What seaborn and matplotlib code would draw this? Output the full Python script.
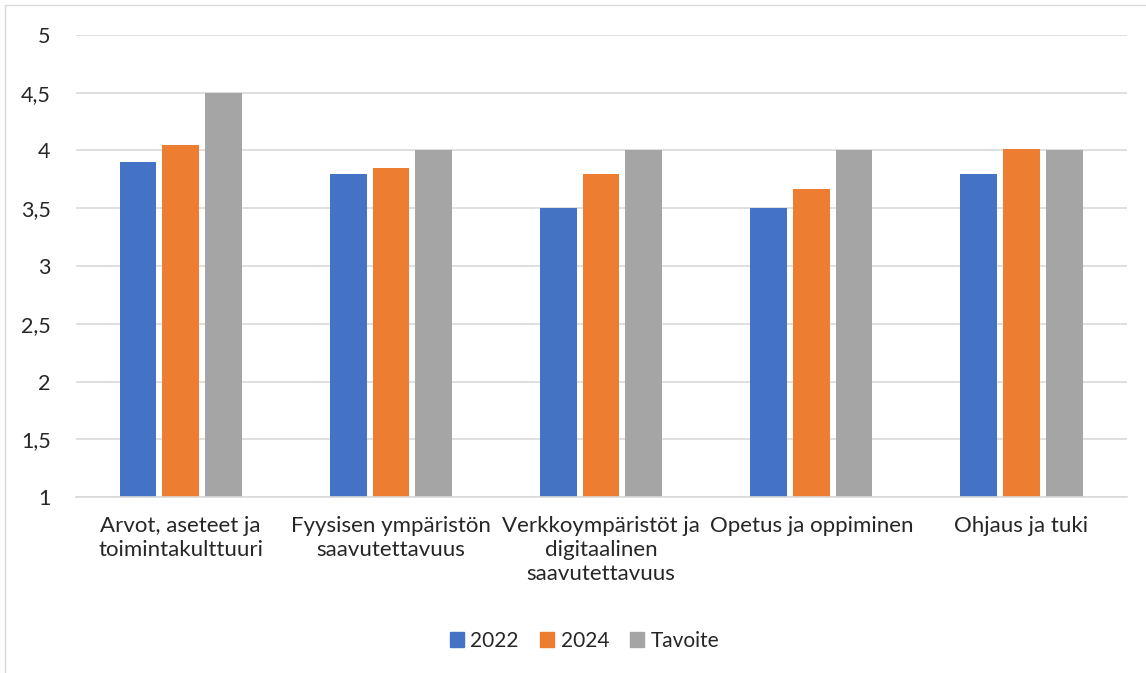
import matplotlib
matplotlib.use("Agg")
import matplotlib.pyplot as plt
import seaborn as sns
import pandas as pd
from matplotlib.lines import Line2D

categories = ["Arvot, aseteet ja\ntoimintakulttuuri",
              "Fyysisen ympäristön\nsaavutettavuus",
              "Verkkoympäristöt ja\ndigitaalinen\nsaavutettavuus",
              "Opetus ja oppiminen",
              "Ohjaus ja tuki"]
series_names = ["2022", "2024", "Tavoite"]
values_2022 = [3.9, 3.8, 3.5, 3.5, 3.8]
values_2024 = [4.05, 3.85, 3.8, 3.67, 4.01]
values_tavoite = [4.5, 4.0, 4.0, 4.0, 4.0]
colors = ["#4472C4", "#ED7D31", "#A5A5A5"]
yticks = [1, 1.5, 2, 2.5, 3, 3.5, 4, 4.5, 5]
ytick_labels = ["1", "1,5", "2", "2,5", "3", "3,5", "4", "4,5", "5"]

rows = []
for name, vals in zip(series_names, [values_2022, values_2024, values_tavoite]):
    for c, v in zip(categories, vals):
        rows.append({"Kategoria": c, "Sarja": name, "Arvo": v})
df = pd.DataFrame(rows)

sns.set_theme(style="white")
plt.rcParams["font.family"] = ["Lato", "DejaVu Sans"]

fig = plt.figure(figsize=(11.46, 6.73), dpi=100)
ax = fig.add_axes([0.066, 0.2615, 0.917, 0.6865])

sns.barplot(data=df, x="Kategoria", y="Arvo", hue="Sarja", palette=colors,
            width=0.61, gap=0.14, ax=ax, legend=False, saturation=1,
            linewidth=0, edgecolor="none")

ax.set_ylim(1, 5)
ax.set_yticks(yticks)
ax.set_yticklabels(ytick_labels, fontsize=15.5, color="#262626")
ax.tick_params(axis="x", labelsize=16, colors="#262626", length=0, pad=14)
ax.tick_params(axis="y", length=0, pad=18)
for lbl in ax.get_xticklabels():
    lbl.set_linespacing(1.25)
ax.set_xlabel("")
ax.set_ylabel("")
ax.yaxis.grid(True, color="#D9D9D9", linewidth=1.2)
ax.set_axisbelow(True)
for s in ["top", "right", "left"]:
    ax.spines[s].set_visible(False)
ax.spines["bottom"].set_color("#D9D9D9")
ax.spines["bottom"].set_linewidth(1.2)
ax.set_xlim(-0.5, len(categories) - 0.5)

handles = [plt.Rectangle((0, 0), 1, 1, color=c) for c in colors]
fig.legend(handles, series_names, loc="center", bbox_to_anchor=(0.51, 0.048),
           ncol=3, frameon=False, fontsize=15, handlelength=0.7,
           handleheight=0.7, handletextpad=0.3, columnspacing=1.0)

# outer chart border (light grey)
fig.add_artist(Line2D([5/1146, 5/1146], [0, 1 - 5/673], transform=fig.transFigure,
                      color="#D9D9D9", linewidth=1))
fig.add_artist(Line2D([5/1146, 1], [1 - 5/673, 1 - 5/673], transform=fig.transFigure,
                      color="#D9D9D9", linewidth=1))

fig.savefig("out.png", dpi=100)
